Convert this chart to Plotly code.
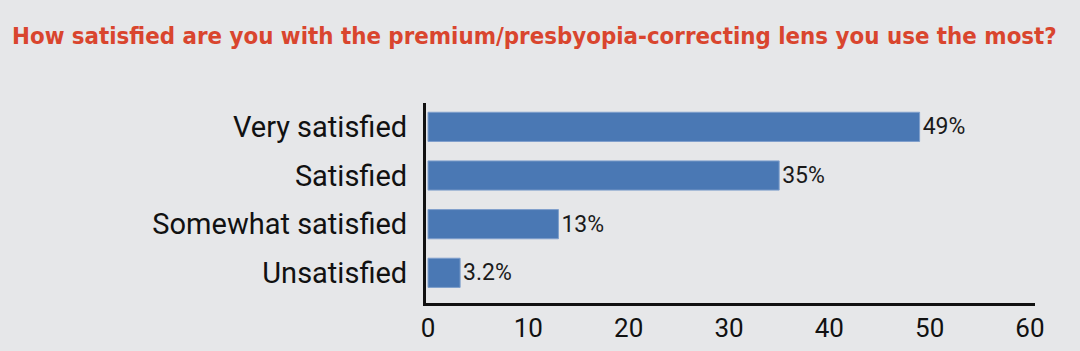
import plotly.graph_objects as go

categories = ["Very satisfied", "Satisfied", "Somewhat satisfied", "Unsatisfied"]
values = [49, 35, 13, 3.2]
labels = ["49%", "35%", "13%", "3.2%"]
x_ticks = [0, 10, 20, 30, 40, 50, 60]
title_text = "How satisfied are you with the premium/presbyopia-correcting lens you use the most?"

BG = "#e6e7e9"
W, H = 1080, 351

fig = go.Figure(
    go.Bar(
        x=values,
        y=categories,
        orientation="h",
        text=labels,
        textposition="outside",
        cliponaxis=False,
        textfont=dict(family="Roboto", size=23, color="#1a1a1a"),
        marker=dict(color="#4a78b4", line=dict(color="#7f9fcc", width=1)),
        width=0.6,
    )
)

fig.update_layout(
    width=W,
    height=H,
    paper_bgcolor=BG,
    plot_bgcolor=BG,
    margin=dict(l=426, r=45, t=103, b=48),
    showlegend=False,
    annotations=[
        dict(
            text="<b>" + title_text + "</b>",
            xref="paper", yref="paper",
            x=-416 / 609, y=1 + 67 / 200,
            xanchor="left", yanchor="middle",
            showarrow=False,
            font=dict(family="DejaVu Sans Condensed, Liberation Sans Narrow, Roboto", size=23.8, color="#d9452e"),
        )
    ],
)

fig.update_xaxes(
    range=[-0.2, 60.5],
    tickvals=x_ticks,
    showgrid=False,
    zeroline=False,
    showline=True,
    linecolor="#111111",
    linewidth=3,
    ticks="",
    automargin=False,
    ticklabelstandoff=0,
    tickfont=dict(family="Roboto", size=26, color="#111111"),
)
fig.update_yaxes(
    type="category",
    categoryorder="array",
    categoryarray=categories,
    range=[3.62, -0.49],
    showgrid=False,
    zeroline=False,
    showline=True,
    linecolor="#111111",
    linewidth=3,
    ticks="",
    automargin=False,
    ticklabelstandoff=10,
    tickfont=dict(family="Roboto", size=29, color="#111111"),
)

fig.write_html("out.html")
